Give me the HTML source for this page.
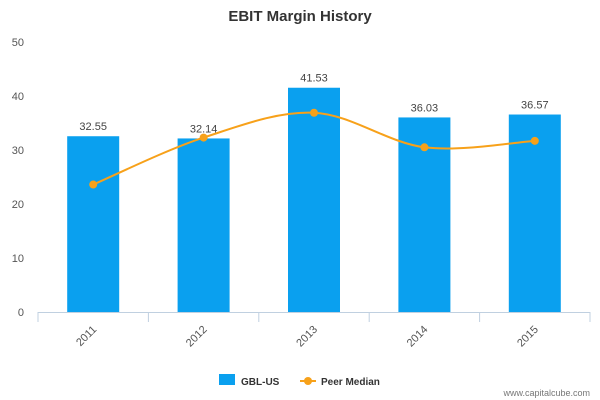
<!DOCTYPE html>
<html><head><meta charset="utf-8"><style>
html,body{margin:0;padding:0;background:#fff;}
svg{display:block;font-family:"Liberation Sans","DejaVu Sans",sans-serif;}
</style></head><body>
<svg id="chart" width="600" height="400" viewBox="0 0 600 400">
<text x="300" y="21" text-anchor="middle" font-size="15" font-weight="bold" fill="#333">EBIT Margin History</text>
<g id="grid"></g>
<g id="bars"></g>
<g id="line"></g>
<g id="xaxis"></g>
<g>
<g>
<rect x="219" y="374" width="16" height="11" fill="#0aa0ef"></rect>
<text x="241" y="385" font-size="10" font-weight="bold" fill="#333">GBL-US</text></g>
<g>
<line x1="300" y1="381" x2="316" y2="381" stroke="#f7a11a" stroke-width="2"></line>
<circle cx="308" cy="381" r="4" fill="#f7a11a"></circle>
<text x="321" y="385" font-size="10" font-weight="bold" fill="#333">Peer Median</text></g>
</g>
<text x="590" y="396" text-anchor="end" font-size="9" fill="#777">www.capitalcube.com</text>
</svg>
<script>
const categories = ["2011","2012","2013","2014","2015"];
const companyValues = [32.55, 32.14, 41.53, 36.03, 36.57];
const peerValues = [23.6, 32.3, 36.9, 30.5, 31.7];
const yTicks = [0,10,20,30,40,50];

const NS="http://www.w3.org/2000/svg";
const plotLeft=38,plotRight=590,plotTop=42,plotBottom=312,yMax=50;
const band=(plotRight-plotLeft)/categories.length;
const xC=i=>plotLeft+band*(i+0.5);
const yS=v=>plotBottom-(v/yMax)*(plotBottom-plotTop);
function mk(tag,attrs,parent,txt){const e=document.createElementNS(NS,tag);for(const k in attrs)e.setAttribute(k,attrs[k]);if(txt!==undefined)e.textContent=txt;parent.appendChild(e);return e;}
const grid=document.getElementById('grid');
yTicks.forEach(t=>{
  const l=mk('text',{x:24,y:yS(t)+4,'text-anchor':'end','font-size':11,fill:'#555'},grid,String(t));
  
  
});
const bars=document.getElementById('bars');
companyValues.forEach((v,i)=>{
  const r=mk('rect',{x:xC(i)-26,y:yS(v),width:52,height:plotBottom-yS(v),fill:'#0aa0ef'},bars);
  
  
  const t=mk('text',{x:xC(i),y:yS(v)-6,'text-anchor':'middle','font-size':11,fill:'#444'},bars,v.toFixed(2));
  
  
});
const lineG=document.getElementById('line');
const pts=peerValues.map((v,i)=>[xC(i),yS(v)]);
let d='M'+pts[0][0]+','+pts[0][1];
for(let i=0;i<pts.length-1;i++){
  const p0=pts[Math.max(0,i-1)],p1=pts[i],p2=pts[i+1],p3=pts[Math.min(pts.length-1,i+2)];
  const s=1/6;
  const c1=[p1[0]+(p2[0]-p0[0])*s,p1[1]+(p2[1]-p0[1])*s];
  const c2=[p2[0]-(p3[0]-p1[0])*s,p2[1]-(p3[1]-p1[1])*s];
  d+=' C'+c1+' '+c2+' '+p2;
}
const path=mk('path',{d:d,fill:'none',stroke:'#f7a11a','stroke-width':2},lineG);


pts.forEach((p,i)=>{
  const c=mk('circle',{cx:p[0],cy:p[1],r:4,fill:'#f7a11a'},lineG);
  
  
});
const xa=document.getElementById('xaxis');
const ax=mk('line',{x1:plotLeft,y1:plotBottom+0.5,x2:plotRight,y2:plotBottom+0.5,stroke:'#c0d0e0','stroke-width':1},xa);


for(let i=0;i<=categories.length;i++){
  const x=plotLeft+band*i;
  mk('line',{x1:x,y1:plotBottom,x2:x,y2:plotBottom+10,stroke:'#c0d0e0'},xa);
}
categories.forEach((c,i)=>{
  const x=xC(i)+4,y=plotBottom+18;
  const t=mk('text',{x:x,y:y,'text-anchor':'end','font-size':11,fill:'#555',transform:`rotate(-45 ${x} ${y})`},xa,c);
  
  
});
</script>
</body></html>
